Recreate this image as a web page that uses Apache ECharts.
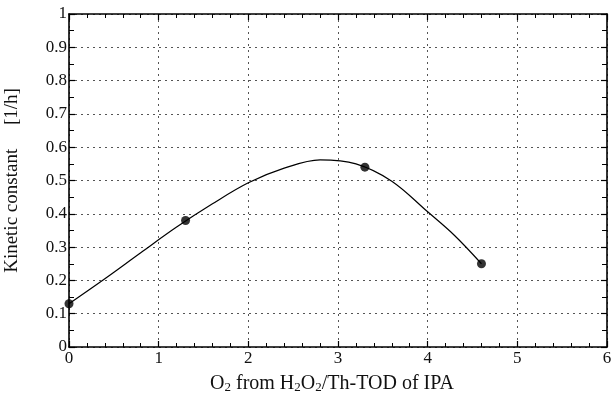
<!DOCTYPE html>
<html>
<head>
<meta charset="utf-8">
<script src="https://cdn.jsdelivr.net/npm/echarts@6/dist/echarts.min.js"></script>
<style>html,body{margin:0;padding:0;background:#fff;}#c{width:613px;height:403px;}</style>
</head>
<body>
<div id="c"></div>
<script>
// Measured points
var pointX = [0, 1.3, 3.3, 4.6];
var pointY = [0.13, 0.38, 0.54, 0.25];
// Fitted curve
var curveX = [0, 0.4, 0.8, 1.2, 1.6, 2.0, 2.4, 2.8, 3.2, 3.6, 4.0, 4.3, 4.6];
var curveY = [0.13, 0.205, 0.283, 0.36, 0.43, 0.493, 0.537, 0.562, 0.55, 0.498, 0.406, 0.335, 0.25];
var xTicks = [0, 1, 2, 3, 4, 5, 6];
var yTicks = [0, 0.1, 0.2, 0.3, 0.4, 0.5, 0.6, 0.7, 0.8, 0.9, 1];

var font = '"Liberation Serif", "DejaVu Serif", serif';
var pts = pointX.map(function (x, i) { return [x, pointY[i]]; });
var crv = curveX.map(function (x, i) { return [x, curveY[i]]; });

var gridLine = { show: true, lineStyle: { color: '#555', type: [2, 4], width: 1 } };
var axLine = { show: true, onZero: false, lineStyle: { color: '#000', width: 1.6 } };

var chart = echarts.init(document.getElementById('c'), null, { renderer: 'canvas' });
chart.setOption({
  animation: false,
  backgroundColor: '#fff',
  grid: { left: 69, right: 6, top: 14, bottom: 56, containLabel: false, outerBoundsMode: 'none' },
  xAxis: [{
    type: 'value', min: 0, max: 6, interval: 1,
    name: '{n|O}{s|2}{n| from H}{s|2}{n|O}{s|2}{n|/Th-TOD of IPA}',
    nameLocation: 'middle', nameGap: 27,
    nameTextStyle: {
      padding: [0, 12, 0, 0],
      rich: {
        n: { fontFamily: font, fontSize: 20, color: '#111' },
        s: { fontFamily: font, fontSize: 13, color: '#111', padding: [7, 0, 0, 0] }
      }
    },
    axisLine: axLine,
    axisTick: { show: true, inside: true, length: 6, lineStyle: { color: '#000', width: 1.2 } },
    minorTick: { show: true, splitNumber: 5, length: 4, lineStyle: { color: '#000', width: 1 } },
    axisLabel: {
      margin: 3, fontFamily: font, fontSize: 17, color: '#111',
      formatter: function (v) { return xTicks.indexOf(v) >= 0 ? String(v) : ''; }
    },
    splitLine: gridLine
  }, {
    type: 'value', min: 0, max: 6, interval: 1, position: 'top',
    axisLine: axLine,
    axisTick: { show: true, inside: true, length: 6, lineStyle: { color: '#000', width: 1.2 } },
    minorTick: { show: true, splitNumber: 5, length: 4, lineStyle: { color: '#000', width: 1 } },
    axisLabel: { show: false }, splitLine: { show: false }
  }],
  yAxis: [{
    type: 'value', min: 0, max: 1, interval: 0.1,
    name: 'Kinetic constant     [1/h]',
    nameLocation: 'middle', nameGap: 47, nameRotate: 90,
    nameTextStyle: { fontFamily: font, fontSize: 19, color: '#111' },
    axisLine: axLine,
    axisTick: { show: true, inside: true, length: 6, lineStyle: { color: '#000', width: 1.2 } },
    minorTick: { show: true, splitNumber: 2, length: 5, lineStyle: { color: '#000', width: 1 } },
    axisLabel: {
      margin: 2, fontFamily: font, fontSize: 17, color: '#111',
      formatter: function (v) {
        var r = Math.round(v * 10) / 10;
        return yTicks.indexOf(r) >= 0 ? String(r) : '';
      }
    },
    splitLine: gridLine
  }, {
    type: 'value', min: 0, max: 1, interval: 0.1, position: 'right',
    axisLine: axLine,
    axisTick: { show: true, inside: true, length: 6, lineStyle: { color: '#000', width: 1.2 } },
    minorTick: { show: true, splitNumber: 2, length: 5, lineStyle: { color: '#000', width: 1 } },
    axisLabel: { show: false }, splitLine: { show: false }
  }],
  series: [{
    type: 'line', data: crv, smooth: 0.35, showSymbol: false, symbol: 'none',
    lineStyle: { color: '#000', width: 1.2 }, z: 3
  }, {
    type: 'scatter', data: pts, symbol: 'circle', symbolSize: 9,
    itemStyle: { color: '#000' }, z: 4
  }]
});
</script>
</body>
</html>
